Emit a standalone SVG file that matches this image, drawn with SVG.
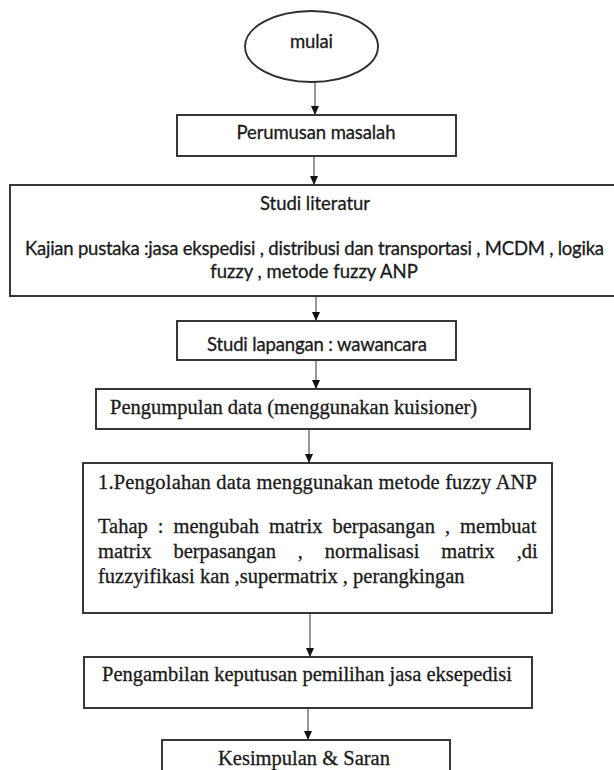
<svg xmlns="http://www.w3.org/2000/svg" width="614" height="770" viewBox="0 0 614 770">
<style>
.box{fill:#fff;stroke:#2e2e2e;stroke-width:1.9}
.ln{stroke:#444;stroke-width:1.1;fill:none}
.sans{font-family:Lato,"Liberation Sans",sans-serif;font-size:18.5px;fill:#1a1a1a;stroke:#1a1a1a;stroke-width:0.3}
.serif{font-family:"Liberation Serif","Times New Roman",serif;font-size:20.5px;fill:#1a1a1a;stroke:#1a1a1a;stroke-width:0.3}
</style>
<defs>
<marker id="ah" markerUnits="userSpaceOnUse" markerWidth="9" markerHeight="8" refX="9" refY="4" orient="auto">
<path d="M0,0 L9,4 L0,8 z" fill="#111"/>
</marker>
</defs>
<rect width="614" height="770" fill="#fff"/>
<g id="connectors">
<line class="ln" x1="315" y1="82" x2="315" y2="115" marker-end="url(#ah)"/>
<line class="ln" x1="314" y1="156" x2="314" y2="185" marker-end="url(#ah)"/>
<line class="ln" x1="316" y1="296" x2="316" y2="321" marker-end="url(#ah)"/>
<line class="ln" x1="316" y1="360" x2="316" y2="389" marker-end="url(#ah)"/>
<line class="ln" x1="309" y1="429" x2="309" y2="463" marker-end="url(#ah)"/>
<line class="ln" x1="310" y1="613" x2="310" y2="657" marker-end="url(#ah)"/>
<line class="ln" x1="308" y1="700" x2="308" y2="740" marker-end="url(#ah)"/>
</g>
<g id="mulai">
<ellipse class="box" cx="311.5" cy="46.5" rx="66.5" ry="35.5"/>
<text class="sans" x="311.5" y="48" text-anchor="middle" textLength="43">mulai</text>
</g>
<g id="perumusan">
<rect class="box" x="177" y="115" width="279" height="41"/>
<text class="sans" x="316" y="139" text-anchor="middle" textLength="159">Perumusan masalah</text>
</g>
<g id="studi-literatur">
<rect class="box" x="10" y="185" width="610" height="111"/>
<text class="sans" x="315" y="210" text-anchor="middle" textLength="110">Studi literatur</text>
<text class="sans" x="25" y="255" textLength="579">Kajian pustaka :jasa ekspedisi , distribusi dan transportasi , MCDM , logika</text>
<text class="sans" x="314" y="278" text-anchor="middle">fuzzy , metode fuzzy ANP</text>
</g>
<g id="studi-lapangan">
<rect class="box" x="177" y="321" width="279" height="39"/>
<text class="sans" x="317" y="351" text-anchor="middle" textLength="220">Studi lapangan : wawancara</text>
</g>
<g id="pengumpulan">
<rect class="box" x="96" y="389" width="434" height="40"/>
<text class="serif" x="110" y="414">Pengumpulan data (menggunakan kuisioner)</text>
</g>
<g id="pengolahan">
<rect class="box" x="83" y="463" width="469" height="150"/>
<text class="serif" x="98" y="489" textLength="439">1.Pengolahan data menggunakan metode fuzzy ANP</text>
<text class="serif" x="98" y="533" word-spacing="4.9">Tahap : mengubah matrix berpasangan , membuat</text>
<text class="serif" x="98" y="558" word-spacing="16.8">matrix berpasangan , normalisasi matrix ,di</text>
<text class="serif" x="98" y="583">fuzzyifikasi kan ,supermatrix , perangkingan</text>
</g>
<g id="pengambilan">
<rect class="box" x="84" y="657" width="448" height="51"/>
<text class="serif" x="102" y="681">Pengambilan keputusan pemilihan jasa eksepedisi</text>
</g>
<g id="kesimpulan">
<rect class="box" x="162" y="740" width="288" height="40"/>
<text class="serif" x="218" y="765">Kesimpulan &amp; Saran</text>
</g>
</svg>
